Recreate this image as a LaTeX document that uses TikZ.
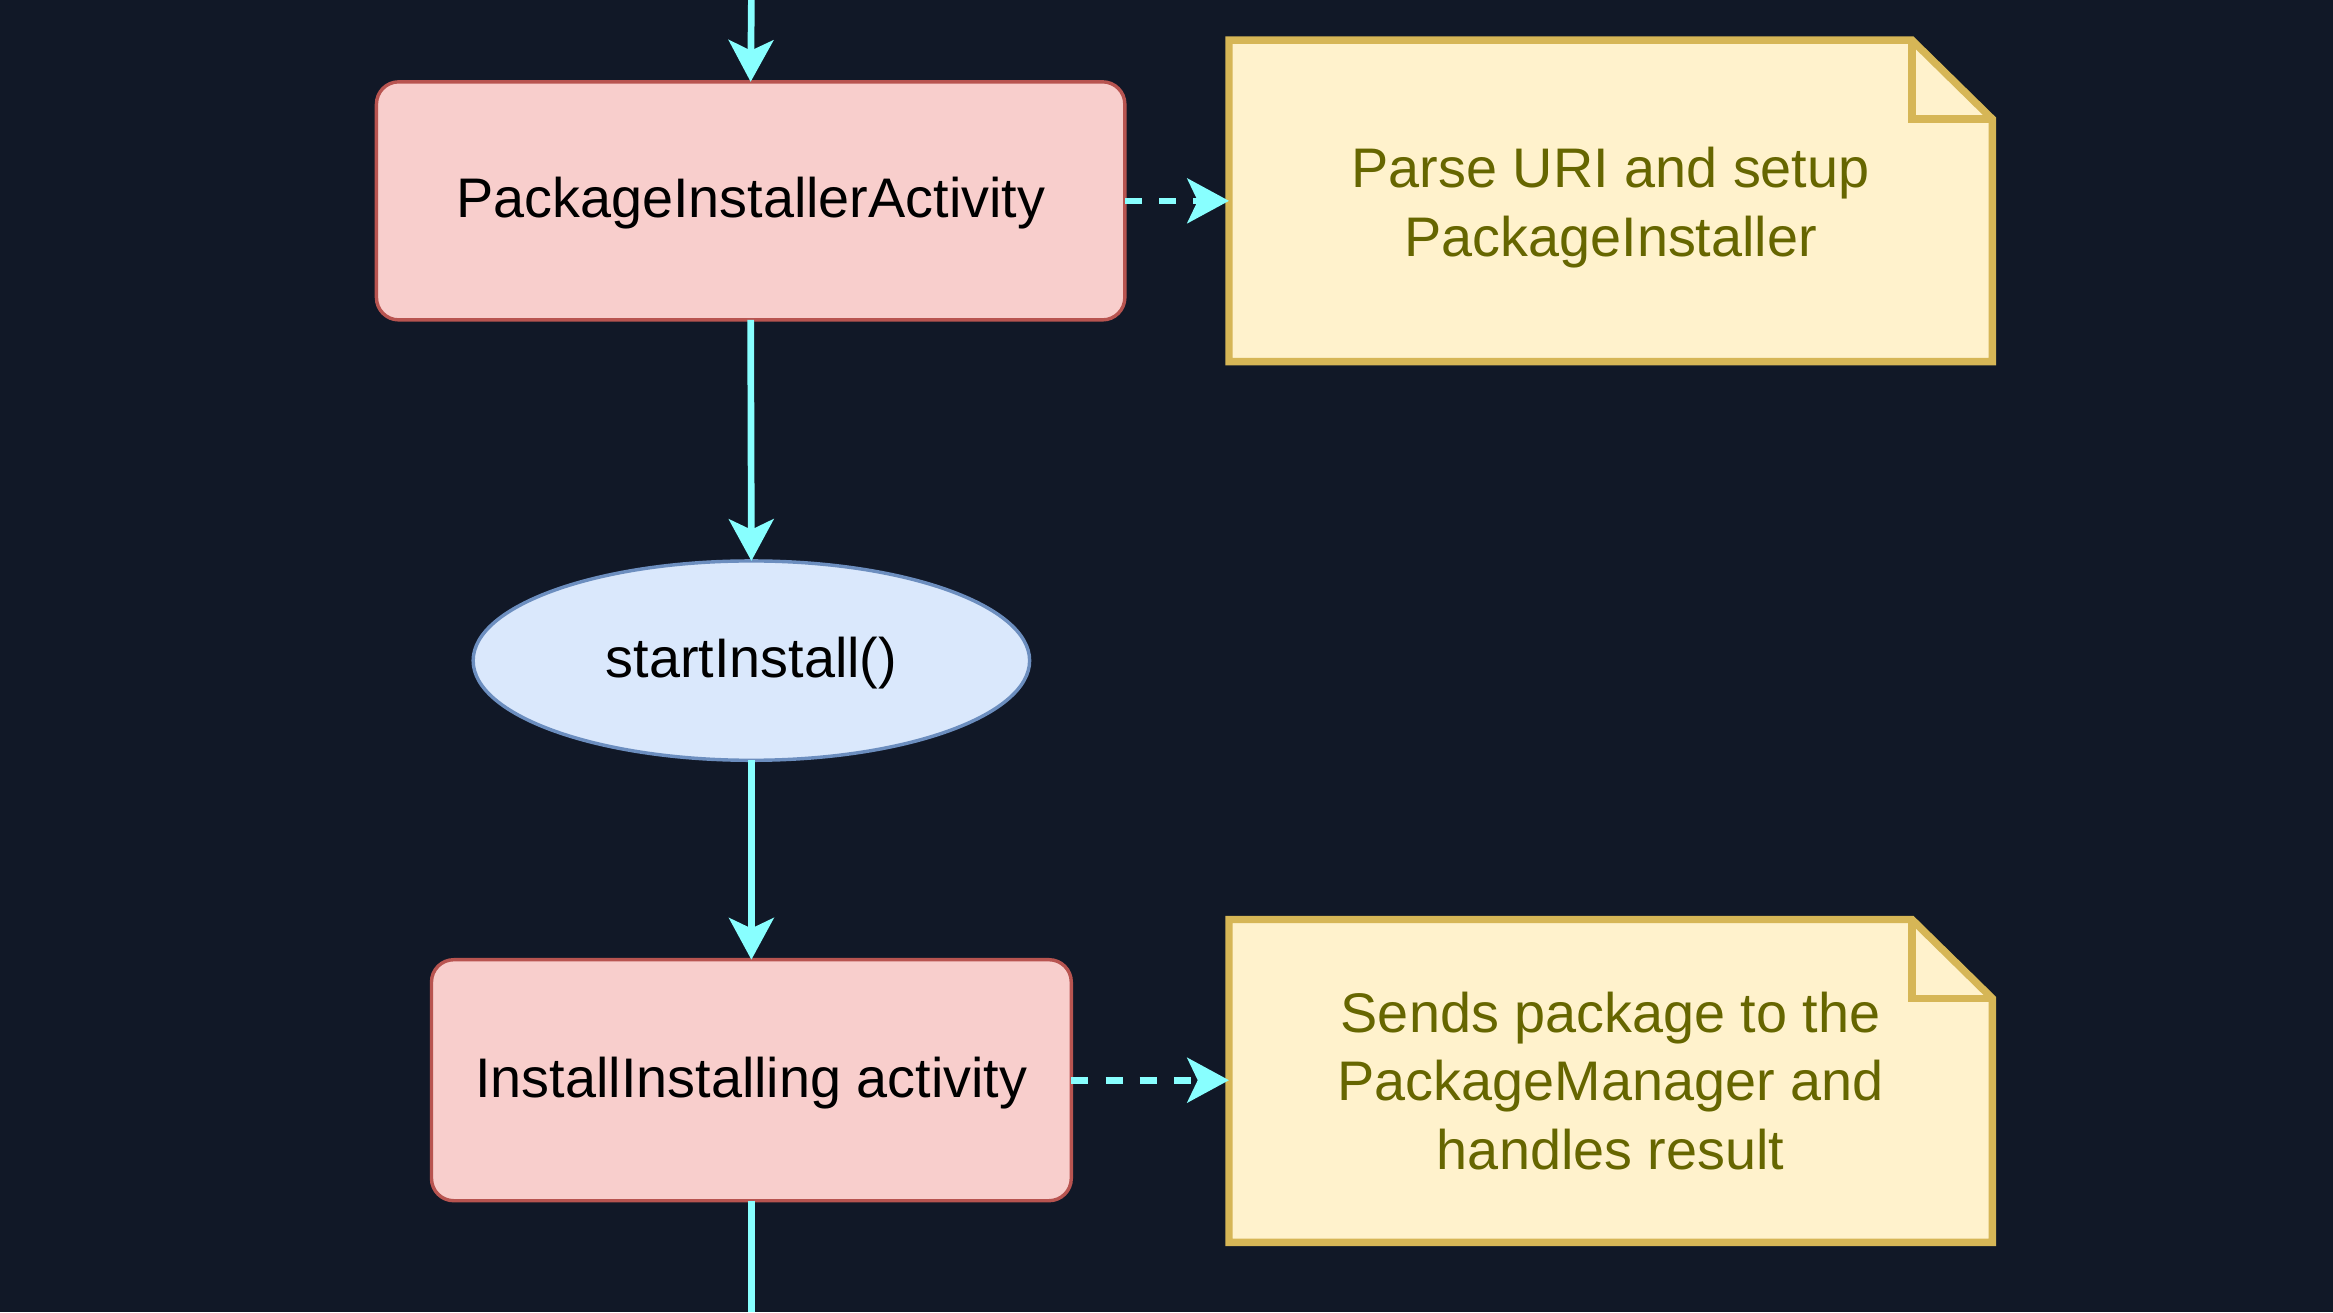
\documentclass[tikz,border=0pt]{standalone}
\usepackage{fontspec}
\setmainfont{Liberation Sans}
\usetikzlibrary{arrows.meta,shapes.geometric}
\definecolor{bgc}{HTML}{111827}
\definecolor{cyanc}{HTML}{88FFFF}
\definecolor{redfill}{HTML}{F8CECC}
\definecolor{redline}{HTML}{B85450}
\definecolor{bluefill}{HTML}{DAE8FC}
\definecolor{blueline}{HTML}{6C8EBF}
\definecolor{notefill}{HTML}{FFF2CC}
\definecolor{noteline}{HTML}{D6B656}
\definecolor{notetext}{HTML}{666600}
\pgfdeclarelayer{bglayer}
\pgfdeclarelayer{notelayer}
\pgfsetlayers{bglayer,notelayer,main}
\begin{document}
\begin{tikzpicture}[x=1pt,y=-1pt,
  every node/.style={font=\fontsize{37.5}{46}\selectfont, inner sep=0pt, outer sep=0pt, align=center},
  actbox/.style={draw=redline, fill=redfill, line width=2.3pt, rounded corners=15pt, text=black, text depth=0.45em},
  callell/.style={ellipse, draw=blueline, fill=bluefill, line width=2.3pt, text=black, text depth=0.45em},
  notebox/.style={text=notetext},
  notedraw/.style={draw=noteline, fill=notefill, line width=5pt, line join=miter},
  conn/.style={draw=cyanc, line width=4.5pt, -{Stealth[length=28pt,width=30pt,inset=7pt]}},
  plainconn/.style={draw=cyanc, line width=4.5pt},
  dconn/.style={conn, dash pattern=on 11.5pt off 11.5pt}
]
\begin{pgfonlayer}{bglayer}
\fill[bgc] (0,0) rectangle (1568,882);
\end{pgfonlayer}
\useasboundingbox (0,0) rectangle (1568,882);

\coordinate (topin) at (505,0);
\coordinate (botout) at (505,882);

\node[actbox, minimum width=503pt, minimum height=160pt] (pia) at (504.5,135) {PackageInstallerActivity};
\node[callell, minimum width=374pt, minimum height=134pt] (si) at (505,444) {startInstall()};
\node[actbox, minimum width=430pt, minimum height=162pt] (iia) at (505,726) {InstallInstalling activity};

\node[notebox, minimum width=513pt, minimum height=216pt] (n1) at (1082.5,135) {\rule{0pt}{36pt}Parse URI and setup\\PackageInstaller};
\node[notebox, minimum width=513pt, minimum height=217pt] (n2) at (1082.5,726.5) {Sends package to the\\PackageManager and\\handles result};

\begin{pgfonlayer}{notelayer}
\foreach \n in {n1,n2}{
  \draw[notedraw] (\n.north west) -- ([xshift=-54pt]\n.north east) -- ([yshift=-53pt]\n.north east) -- (\n.south east) -- (\n.south west) -- cycle;
  \draw[draw=noteline, line width=5pt, line join=miter] ([xshift=-54pt]\n.north east) -- ([xshift=-54pt,yshift=-53pt]\n.north east) -- ([yshift=-53pt]\n.north east);
}
\end{pgfonlayer}

\draw[conn] (topin) -- (pia.north);
\draw[conn] (pia.south) -- (si.north);
\draw[conn] (si.south) -- (iia.north);
\draw[plainconn] (iia.south) -- (botout);
\draw[dconn] (pia.east) -- (pia.east -| n1.west);
\draw[dconn] (iia.east) -- (iia.east -| n2.west);
\end{tikzpicture}
\end{document}
